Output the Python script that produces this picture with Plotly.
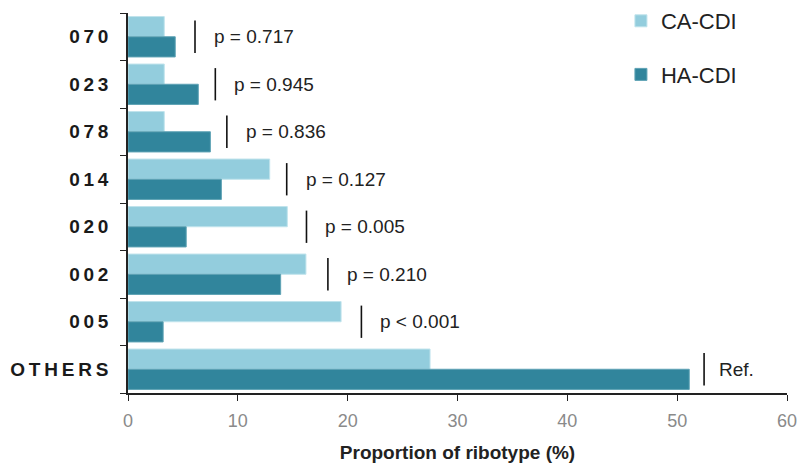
import plotly.graph_objects as go

categories = ["070", "023", "078", "014", "020", "002", "005", "OTHERS"]
ca_cdi = [3.3, 3.3, 3.3, 12.9, 14.5, 16.2, 19.4, 27.5]
ha_cdi = [4.3, 6.4, 7.5, 8.5, 5.3, 13.9, 3.2, 51.1]
p_labels = ["p = 0.717", "p = 0.945", "p = 0.836", "p = 0.127", "p = 0.005", "p = 0.210", "p < 0.001", "Ref."]
p_line_x = [6.1, 7.95, 9.0, 14.45, 16.25, 18.2, 21.25, 52.45]
x_ticks = [0, 10, 20, 30, 40, 50, 60]

FONT = "Arial, Liberation Sans, Helvetica, sans-serif"
LIGHT = "#93CDDD"
DARK = "#31859C"

def spaced(s):
    return "\u2009".join(list(s))

tick_text = [spaced(c) for c in categories]

fig = go.Figure()
fig.add_trace(go.Bar(y=categories, x=ca_cdi, orientation="h", name="CA-CDI",
                     marker=dict(color=LIGHT, line=dict(color="#BFE3EC", width=1)),
                     legendgroup="ca"))
fig.add_trace(go.Bar(y=categories, x=ha_cdi, orientation="h", name="HA-CDI",
                     marker=dict(color=DARK, line=dict(color="#5FA3B5", width=1)),
                     legendgroup="ha"))

shapes = []
annotations = []
for i, (lx, lab) in enumerate(zip(p_line_x, p_labels)):
    shapes.append(dict(type="line", xref="x", yref="y", x0=lx, x1=lx,
                       y0=i - 0.34, y1=i + 0.34,
                       line=dict(color="#111111", width=1.6)))
    annotations.append(dict(x=lx, y=i, xref="x", yref="y", text=lab,
                            showarrow=False, xanchor="left", yanchor="middle",
                            xshift=13 if lab == "Ref." else 17,
                            font=dict(family=FONT, size=19, color="#222222")))

fig.update_layout(
    width=799, height=469,
    margin=dict(l=128, r=12, t=13, b=76, autoexpand=False),
    paper_bgcolor="white", plot_bgcolor="white",
    barmode="group", bargap=0.15, bargroupgap=0,
    shapes=shapes, annotations=annotations,
    font=dict(family=FONT, color="#222222"),
    legend=dict(x=0.748, xref="paper", y=1.0, yref="container",
                xanchor="left", yanchor="top",
                font=dict(family=FONT, size=22, color="#222222"),
                tracegroupgap=22, itemwidth=30, bgcolor="rgba(0,0,0,0)",
                traceorder="grouped"),
    xaxis=dict(range=[0, 60], tickvals=x_ticks, showgrid=False, zeroline=False,
               showline=True, linecolor="#222222", linewidth=1.5,
               ticks="outside", ticklen=6, tickwidth=1.3, tickcolor="#222222",
               automargin=False, ticklabelstandoff=5,
               tickfont=dict(family=FONT, size=18, color="#8A8A8A"),
               title=dict(text="<b>Proportion of ribotype (%)</b>",
                          font=dict(family=FONT, size=19, color="#222222"),
                          standoff=15)),
    yaxis=dict(categoryorder="array", categoryarray=categories,
               autorange="reversed", tickvals=categories, ticktext=tick_text,
               showgrid=False, zeroline=False, automargin=False,
               showline=True, linecolor="#222222", linewidth=1.5,
               ticks="outside", tickson="boundaries", ticklen=6, tickwidth=1.3,
               tickcolor="#222222", ticklabelstandoff=14,
               tickfont=dict(family=FONT, size=19, color="#1A1A1A", weight="bold")),
)

# remove the page's default 8px body margin so the figure fills the window
fig.write_html("out.html",
               config={"displayModeBar": False},
               post_script="document.body.style.margin='0';document.body.style.overflow='hidden';")
